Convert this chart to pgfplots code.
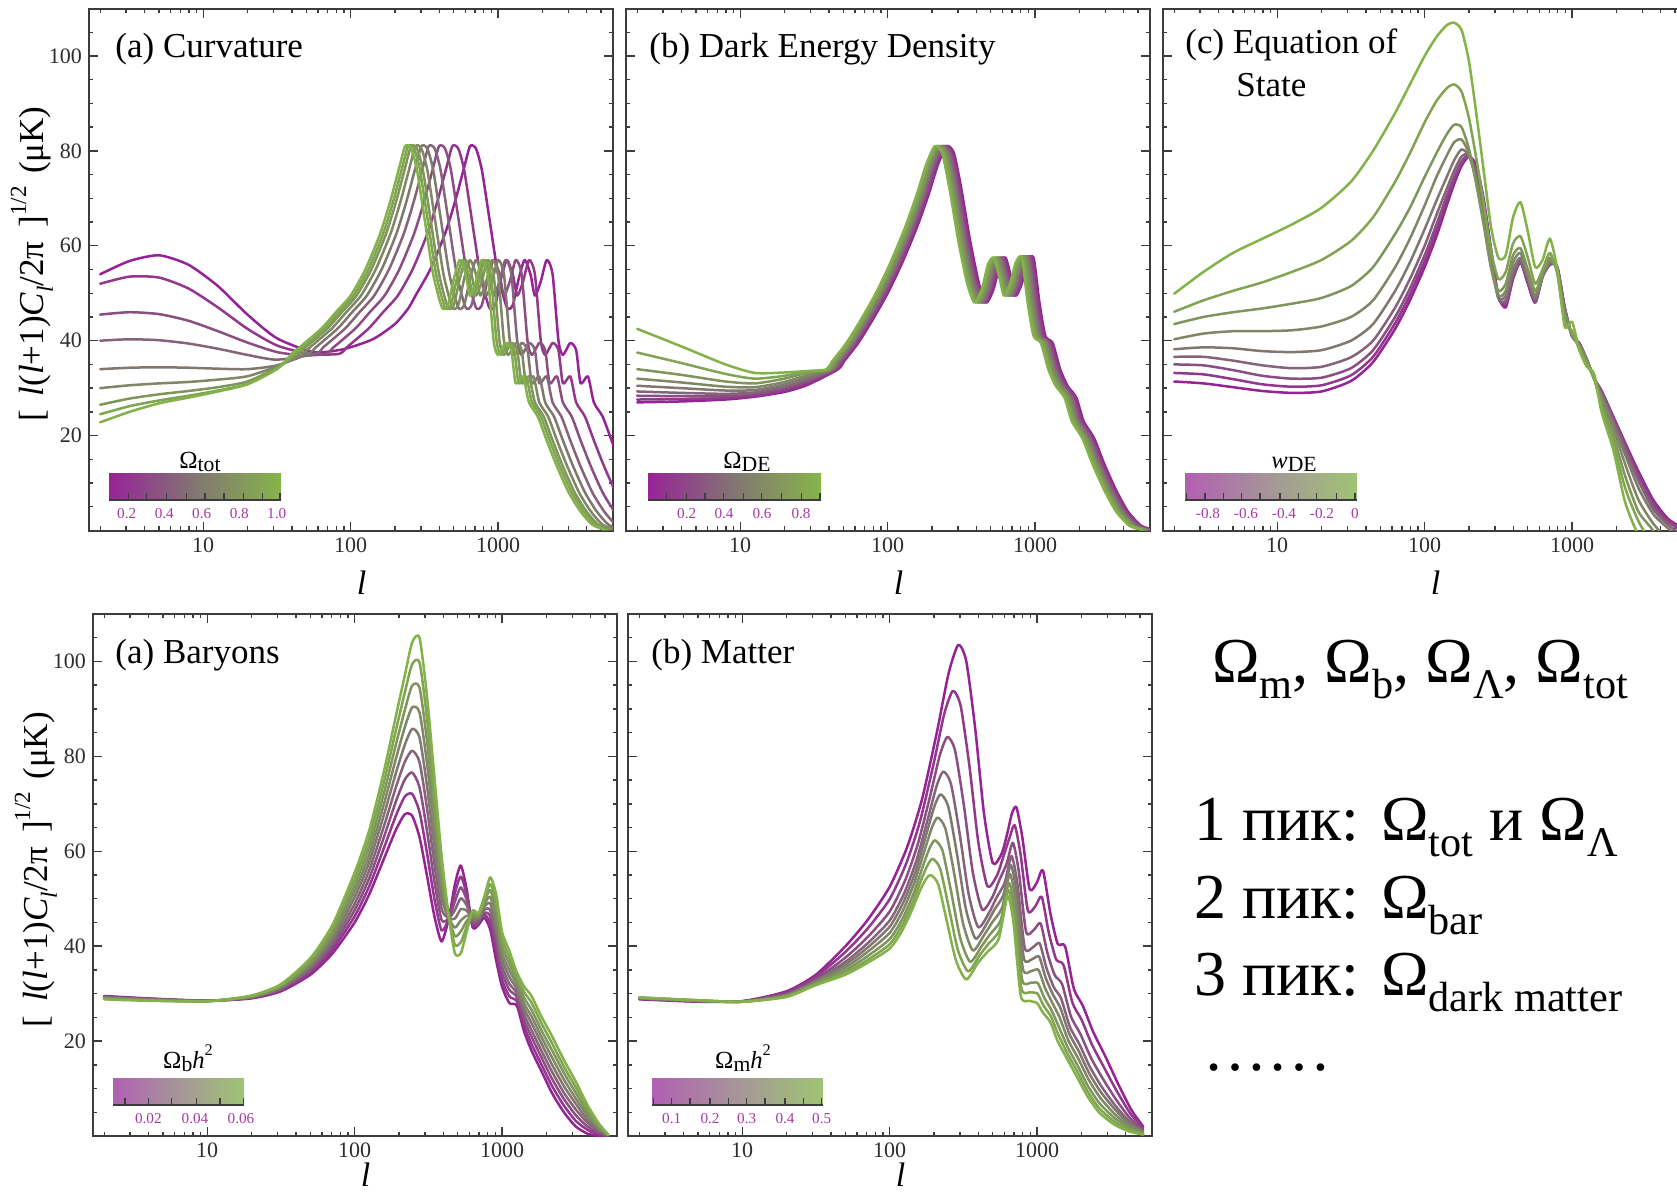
\documentclass[border=0pt]{standalone}
\usepackage{fontspec}
\setmainfont{Liberation Serif}
\usepackage{graphicx}
\usepackage{pgfplots}
\pgfplotsset{compat=1.18}
\usepackage{pgfplotstable}

\newcommand{\sub}[2][0.66]{\raisebox{-0.26em}{\scalebox{#1}{#2}}}
\newcommand{\subc}[1]{\raisebox{-0.16em}{\scalebox{0.88}{#1}}}
\newcommand{\supx}[1]{\raisebox{0.5em}{\scalebox{0.66}{#1}}}
\newcommand{\ttl}{\fontsize{17.5}{20}\selectfont}
\newcommand{\cbf}{\fontsize{7.6}{9}\selectfont}
\newcommand{\cbt}{\fontsize{12.3}{14}\selectfont}
\newcommand{\rtf}{\fontsize{32}{37}\selectfont}

\definecolor{c0}{RGB}{150,35,150}
\definecolor{c1}{RGB}{145,56,141}
\definecolor{c2}{RGB}{139,78,131}
\definecolor{c3}{RGB}{134,99,122}
\definecolor{c4}{RGB}{128,120,112}
\definecolor{c5}{RGB}{128,135,102}
\definecolor{c6}{RGB}{128,149,92}
\definecolor{c7}{RGB}{128,164,82}
\definecolor{c8}{RGB}{130,178,72}
\definecolor{frame}{RGB}{60,60,60}
\definecolor{ticktext}{RGB}{45,45,45}
\definecolor{cbPa}{RGB}{152,35,152}
\definecolor{cbMa}{RGB}{130,118,114}
\definecolor{cbGa}{RGB}{135,180,75}
\definecolor{cbPl}{RGB}{178,95,178}
\definecolor{cbMl}{RGB}{165,150,152}
\definecolor{cbGl}{RGB}{160,196,115}
\definecolor{cblab}{RGB}{165,60,165}

\pgfplotsset{
 cmb/.style={
  scale only axis, width=262pt, height=261pt,
  xmin=0.225, xmax=3.78, ymin=0, ymax=110,
  xtick={1,2,3}, xticklabels={10,100,1000},
  minor xtick={0.301,0.477,0.602,0.699,0.778,0.845,0.903,0.954,1.301,1.477,1.602,1.699,1.778,1.845,1.903,1.954,2.301,2.477,2.602,2.699,2.778,2.845,2.903,2.954,3.301,3.477,3.602,3.699},
  ytick={20,40,60,80,100},
  minor ytick={5,10,15,25,30,35,45,50,55,65,70,75,85,90,95,105},
  tick align=inside, tick pos=both,
  major tick length=4.5pt, minor tick length=2.2pt,
  axis line style={line width=1pt, draw=frame},
  every tick/.style={line width=0.7pt, draw=frame},
  tick label style={font=\fontsize{11}{13}\selectfont, text=ticktext},
  /pgf/number format/assume math mode=true,
  xlabel={\textit{l}},
  xlabel style={font=\fontsize{17}{20}\selectfont, inner sep=0pt, at={(axis description cs:0.52,-0.1)}, anchor=center},
  every axis plot/.append style={line width=1.25pt, smooth, tension=0.4, line join=round, line cap=round, mark=none},
 },
 bottomrow/.style={xlabel style={at={(axis description cs:0.52,-0.074)}}},
 ylab/.style={
  ylabel={{[}\hspace{0.15em} \textit{l}(\textit{l}+1)\textit{C}\sub{\textit{l}}/2π\hspace{0.15em} {]}\supx{1/2} \hspace{0.1em}(μK)},
  ylabel style={font=\fontsize{17.5}{20}\selectfont, at={(axis description cs:-0.109,0.51)}, anchor=center},
 },
 noylab/.style={yticklabels={}},
}

% ---------- (a) Curvature: high-l part, one x column per curve ----------
\pgfplotstableread{
y x0 x1 x2 x3 x4 x5 x6 x7 x8
38.5 2.09 1.97 1.88 1.81 1.76 1.72 1.69 1.67 1.65
42.5 2.24 2.12 2.03 1.96 1.91 1.87 1.84 1.82 1.80
46.0 2.34 2.22 2.13 2.06 2.01 1.97 1.94 1.92 1.90
49.5 2.44 2.32 2.23 2.16 2.11 2.07 2.04 2.02 2.00
55.0 2.54 2.42 2.33 2.26 2.21 2.17 2.14 2.12 2.10
62.5 2.64 2.52 2.43 2.36 2.31 2.27 2.24 2.22 2.20
69.5 2.71 2.59 2.50 2.43 2.38 2.34 2.31 2.29 2.27
76.5 2.77 2.65 2.56 2.49 2.44 2.40 2.37 2.35 2.33
81.0 2.81 2.69 2.60 2.53 2.48 2.44 2.41 2.39 2.37
80.5 2.85 2.73 2.64 2.57 2.52 2.48 2.45 2.43 2.41
76.0 2.89 2.77 2.68 2.61 2.56 2.52 2.49 2.47 2.45
66.0 2.94 2.82 2.73 2.66 2.61 2.57 2.54 2.52 2.50
54.0 3.00 2.88 2.79 2.72 2.67 2.63 2.60 2.58 2.56
47.0 3.06 2.94 2.85 2.78 2.73 2.69 2.66 2.64 2.62
47.5 3.10 2.98 2.89 2.82 2.77 2.73 2.70 2.68 2.66
53.0 3.14 3.02 2.93 2.86 2.81 2.77 2.74 2.72 2.70
57.0 3.18 3.06 2.97 2.90 2.85 2.81 2.78 2.76 2.74
54.0 3.22 3.10 3.01 2.94 2.89 2.85 2.82 2.80 2.78
49.5 3.25 3.13 3.04 2.97 2.92 2.88 2.85 2.83 2.81
52.5 3.29 3.17 3.08 3.01 2.96 2.92 2.89 2.87 2.85
57.0 3.33 3.21 3.12 3.05 3.00 2.96 2.93 2.91 2.89
54.0 3.37 3.25 3.16 3.09 3.04 3.00 2.97 2.95 2.93
40.0 3.41 3.29 3.20 3.13 3.08 3.04 3.01 2.99 2.97
37.0 3.44 3.32 3.23 3.16 3.11 3.07 3.04 3.02 3.00
39.5 3.49 3.37 3.28 3.21 3.16 3.12 3.09 3.07 3.05
38.0 3.53 3.41 3.32 3.25 3.20 3.16 3.13 3.11 3.09
31.0 3.56 3.44 3.35 3.28 3.23 3.19 3.16 3.14 3.12
32.5 3.61 3.49 3.40 3.33 3.28 3.24 3.21 3.19 3.17
27.0 3.65 3.53 3.44 3.37 3.32 3.28 3.25 3.23 3.21
24.0 3.71 3.59 3.50 3.43 3.38 3.34 3.31 3.29 3.27
19.0 3.77 3.65 3.56 3.49 3.44 3.40 3.37 3.35 3.33
13.5 3.84 3.72 3.63 3.56 3.51 3.47 3.44 3.42 3.40
8.0 3.92 3.80 3.71 3.64 3.59 3.55 3.52 3.50 3.48
4.0 4.00 3.88 3.79 3.72 3.67 3.63 3.60 3.58 3.56
1.2 4.08 3.96 3.87 3.80 3.75 3.71 3.68 3.66 3.64
0.2 4.16 4.04 3.95 3.88 3.83 3.79 3.76 3.74 3.72
}\tabAh

% ---------- (b) Dark energy: high-l part ----------
\pgfplotstableread{
y x0 x1 x2 x3 x4 x5 x6 x7 x8
35.5 1.70 1.69 1.68 1.67 1.66 1.65 1.64 1.63 1.62
39.5 1.80 1.79 1.78 1.77 1.76 1.75 1.74 1.73 1.72
44.5 1.90 1.89 1.88 1.87 1.86 1.85 1.84 1.83 1.82
50.0 2.00 1.99 1.98 1.97 1.96 1.95 1.94 1.93 1.92
56.5 2.10 2.09 2.08 2.07 2.06 2.05 2.04 2.03 2.02
64.0 2.20 2.19 2.18 2.17 2.16 2.15 2.14 2.13 2.12
71.0 2.28 2.27 2.26 2.25 2.24 2.23 2.22 2.21 2.20
77.0 2.34 2.33 2.32 2.31 2.30 2.29 2.28 2.27 2.26
81.0 2.40 2.39 2.38 2.37 2.36 2.35 2.34 2.33 2.32
79.5 2.45 2.44 2.43 2.42 2.41 2.40 2.39 2.38 2.37
72.0 2.50 2.49 2.48 2.47 2.46 2.45 2.44 2.43 2.42
61.0 2.56 2.55 2.54 2.53 2.52 2.51 2.50 2.49 2.48
52.0 2.62 2.61 2.60 2.59 2.58 2.57 2.56 2.55 2.54
48.0 2.67 2.66 2.65 2.64 2.63 2.62 2.61 2.60 2.59
51.0 2.72 2.71 2.70 2.69 2.68 2.67 2.66 2.65 2.64
56.0 2.76 2.75 2.74 2.73 2.72 2.71 2.70 2.69 2.68
57.5 2.80 2.79 2.78 2.77 2.76 2.75 2.74 2.73 2.72
53.0 2.84 2.83 2.82 2.81 2.80 2.79 2.78 2.77 2.76
49.5 2.87 2.86 2.85 2.84 2.83 2.82 2.81 2.80 2.79
52.0 2.91 2.90 2.89 2.88 2.87 2.86 2.85 2.84 2.83
56.5 2.95 2.94 2.93 2.92 2.91 2.90 2.89 2.88 2.87
57.5 2.99 2.98 2.97 2.96 2.95 2.94 2.93 2.92 2.91
48.0 3.03 3.02 3.01 3.00 2.99 2.98 2.97 2.96 2.95
41.0 3.07 3.06 3.05 3.04 3.03 3.02 3.01 3.00 2.99
39.5 3.12 3.11 3.10 3.09 3.08 3.07 3.06 3.05 3.04
34.0 3.17 3.16 3.15 3.14 3.13 3.12 3.11 3.10 3.09
30.5 3.22 3.21 3.20 3.19 3.18 3.17 3.16 3.15 3.14
28.0 3.28 3.27 3.26 3.25 3.24 3.23 3.22 3.21 3.20
23.0 3.33 3.32 3.31 3.30 3.29 3.28 3.27 3.26 3.25
19.5 3.40 3.39 3.38 3.37 3.36 3.35 3.34 3.33 3.32
14.0 3.47 3.46 3.45 3.44 3.43 3.42 3.41 3.40 3.39
8.5 3.55 3.54 3.53 3.52 3.51 3.50 3.49 3.48 3.47
4.0 3.63 3.62 3.61 3.60 3.59 3.58 3.57 3.56 3.55
1.0 3.72 3.71 3.70 3.69 3.68 3.67 3.66 3.65 3.64
0.2 3.80 3.79 3.78 3.77 3.76 3.75 3.74 3.73 3.72
}\tabBh

% ---------- (c) Equation of state ----------
\pgfplotstableread{
x y0 y1 y2 y3 y4 y5 y6 y7 y8
0.301 31.4 33.2 35.0 36.6 38.2 40.3 43.5 46.1 49.9
0.5 31.0 32.9 34.8 36.6 38.6 41.5 45.0 48.5 54.5
0.7 30.2 31.9 33.8 35.8 38.4 42.0 46.0 50.5 58.5
0.9 29.4 30.8 32.6 34.8 37.8 42.0 46.8 52.3 61.5
1.1 29.0 30.3 32.0 34.2 37.6 42.2 47.8 54.5 64.5
1.3 29.3 30.6 32.2 34.5 38.0 43.0 49.0 57.0 68.0
1.5 31.5 32.7 34.2 36.5 40.0 45.0 51.5 61.0 73.5
1.65 35.5 36.6 38.0 40.0 43.5 48.5 55.5 66.0 80.0
1.8 42.5 43.7 45.0 47.0 50.5 55.5 62.5 73.5 88.0
1.9 48.5 49.7 51.0 53.0 56.5 61.5 68.0 79.5 94.0
2.0 55.5 56.7 58.0 60.0 63.5 68.5 74.5 86.0 100.0
2.08 62.0 63.2 64.5 66.5 69.5 74.5 79.5 90.5 104.0
2.15 68.5 69.5 70.5 72.0 74.5 79.0 83.5 93.2 106.5
2.2 73.0 73.7 74.5 75.8 78.0 81.8 85.5 94.0 107.0
2.25 76.8 77.3 77.8 78.8 80.3 82.4 85.0 92.5 105.5
2.3 78.8 78.9 79.0 79.2 79.0 79.5 80.5 87.0 99.0
2.35 77.0 76.4 75.8 75.0 74.0 73.5 73.0 78.5 88.0
2.4 70.0 69.3 68.5 67.5 66.0 65.0 64.5 69.0 76.0
2.45 59.5 59.0 58.5 57.5 56.5 55.5 55.5 59.0 64.0
2.5 49.5 49.2 49.0 49.0 49.0 49.5 50.5 53.0 57.5
2.55 47.0 47.5 48.0 48.5 49.5 50.5 52.0 54.5 58.0
2.6 53.0 53.2 53.5 54.0 55.0 56.5 58.0 60.5 66.0
2.65 56.5 56.6 56.8 57.0 57.5 58.5 59.5 62.0 69.2
2.7 52.0 52.2 52.5 53.0 53.5 54.0 55.0 57.5 63.0
2.75 48.0 48.1 48.2 48.5 49.0 49.5 50.5 52.0 55.5
2.8 53.5 53.5 53.5 53.5 53.5 54.0 54.0 55.0 57.0
2.85 56.0 56.1 56.2 56.3 56.5 57.0 57.5 58.5 61.5
2.9 55.5 55.5 55.4 55.3 55.0 55.0 54.5 54.0 55.0
2.95 47.0 47.0 47.0 46.8 46.5 46.0 45.0 44.0 43.0
3.0 41.0 41.0 41.0 41.0 41.0 41.0 41.5 42.0 44.0
3.05 39.5 39.4 39.3 39.2 39.0 39.0 38.5 38.0 38.0
3.1 36.0 36.0 36.0 36.0 36.0 36.0 35.5 35.0 34.5
3.15 32.0 32.0 32.0 32.0 32.0 32.0 32.0 32.0 33.0
3.2 29.5 29.3 29.2 29.0 28.5 28.0 27.0 26.0 25.0
3.28 24.0 23.8 23.5 23.0 22.5 21.5 20.0 18.5 17.0
3.36 18.5 18.2 17.8 17.0 16.0 14.0 11.5 9.0 6.0
3.45 12.5 12.0 11.3 10.5 9.0 6.5 4.0 2.0 -1.0
3.55 6.5 6.0 5.3 4.5 3.5 1.5 0.0 -3.0 -5.0
3.65 2.5 2.2 1.8 1.2 0.5 -2.0 -5.0 -5.0 -5.0
3.75 0.5 0.3 0.0 -1.0 -2.0 -5.0 -5.0 -5.0 -5.0
}\tabC

% ---------- Baryons ----------
\pgfplotstableread{
x y0 y1 y2 y3 y4 y5 y6 y7 y8
0.301 29.5 29.4 29.3 29.2 29.2 29.1 29.0 28.9 28.8
0.6 29.0 28.9 28.9 28.8 28.8 28.7 28.6 28.6 28.5
1.0 28.5 28.5 28.5 28.5 28.5 28.4 28.4 28.4 28.4
1.3 29.0 29.1 29.2 29.2 29.3 29.4 29.5 29.5 29.6
1.5 30.5 30.7 30.9 31.1 31.3 31.4 31.6 31.8 32.0
1.7 34.0 34.4 34.9 35.3 35.8 36.2 36.6 37.1 37.5
1.85 38.5 39.3 40.0 40.8 41.5 42.3 43.0 43.8 44.5
2.0 45.0 46.3 47.6 48.9 50.3 51.6 52.9 54.2 55.5
2.1 51.0 52.7 54.4 56.1 57.8 59.4 61.1 62.8 64.5
2.2 58.5 60.8 63.1 65.4 67.8 70.1 72.4 74.7 77.0
2.28 64.5 67.5 70.5 73.5 76.5 79.5 82.5 85.5 88.5
2.34 67.8 71.5 75.1 78.8 82.4 86.1 89.7 93.4 97.0
2.39 67.5 72.1 76.6 81.2 85.8 90.3 94.9 99.4 104.0
2.44 63.0 68.3 73.5 78.8 84.0 89.3 94.5 99.8 105.0
2.49 55.0 59.8 64.5 69.3 74.0 78.8 83.5 88.3 93.0
2.54 46.5 50.2 53.9 57.6 61.3 64.9 68.6 72.3 76.0
2.59 41.0 43.3 45.5 47.8 50.0 52.3 54.5 56.8 59.0
2.64 46.0 46.0 46.0 46.0 46.0 46.0 46.0 46.0 46.0
2.68 53.0 51.2 49.4 47.6 45.8 43.9 42.1 40.3 38.5
2.72 57.0 54.7 52.4 50.1 47.8 45.4 43.1 40.8 38.5
2.76 52.0 50.9 49.8 48.6 47.5 46.4 45.3 44.1 43.0
2.8 44.0 44.4 44.9 45.3 45.8 46.2 46.6 47.1 47.5
2.84 44.5 44.8 45.1 45.4 45.8 46.1 46.4 46.7 47.0
2.88 46.0 46.6 47.1 47.7 48.3 48.8 49.4 49.9 50.5
2.92 43.5 44.9 46.3 47.6 49.0 50.4 51.8 53.1 54.5
2.96 37.0 38.8 40.5 42.3 44.0 45.8 47.5 49.3 51.0
3.0 31.5 32.9 34.4 35.8 37.3 38.7 40.1 41.6 43.0
3.05 28.0 29.4 30.8 32.1 33.5 34.9 36.3 37.6 39.0
3.1 27.5 28.4 29.3 30.1 31.0 31.9 32.8 33.6 34.5
3.15 22.0 23.2 24.4 25.6 26.8 27.9 29.1 30.3 31.5
3.2 18.0 19.4 20.9 22.3 23.8 25.2 26.6 28.1 29.5
3.27 13.5 14.9 16.4 17.8 19.3 20.7 22.1 23.6 25.0
3.34 9.0 10.5 12.0 13.5 15.0 16.5 18.0 19.5 21.0
3.42 5.0 6.4 7.8 9.1 10.5 11.9 13.3 14.6 16.0
3.5 2.0 3.2 4.4 5.6 6.8 7.9 9.1 10.3 11.5
3.58 0.5 1.3 2.0 2.8 3.5 4.3 5.0 5.8 6.5
3.66 0.0 0.3 0.6 0.9 1.3 1.6 1.9 2.2 2.5
3.72 0.0 0.0 0.1 0.1 0.2 0.2 0.2 0.3 0.3
}\tabD

% ---------- Matter ----------
\pgfplotstableread{
x0 y0 x1 y1 x2 y2 x3 y3 x4 y4 x5 y5 x6 y6 x7 y7 x8 y8
0.301 28.8 0.301 28.9 0.301 29.0 0.301 29.0 0.301 29.1 0.301 29.1 0.301 29.1 0.301 29.2 0.301 29.2
0.7 28.3 0.7 28.4 0.7 28.4 0.7 28.5 0.7 28.5 0.7 28.5 0.7 28.6 0.7 28.6 0.7 28.6
1.0 28.4 1.0 28.4 1.0 28.4 1.0 28.3 1.0 28.3 1.0 28.3 1.0 28.3 1.0 28.3 1.0 28.3
1.3 30.5 1.3 30.3 1.3 30.0 1.3 29.8 1.3 29.7 1.3 29.6 1.3 29.5 1.3 29.4 1.3 29.3
1.5 34.0 1.5 33.6 1.5 33.1 1.5 32.8 1.5 32.6 1.5 32.4 1.5 32.1 1.5 32.0 1.5 31.8
1.7 40.0 1.7 38.8 1.7 37.6 1.7 36.7 1.7 36.1 1.7 35.5 1.7 34.9 1.7 34.4 1.7 34.0
1.85 45.5 1.85 43.7 1.85 41.9 1.85 40.6 1.85 39.7 1.85 38.8 1.85 37.9 1.85 37.1 1.85 36.5
2.0 52.5 2.0 49.9 2.0 47.3 2.0 45.4 2.0 44.1 2.0 42.8 2.0 41.5 2.0 40.4 2.0 39.5
2.12 61.0 2.112 57.4 2.104 53.8 2.098 51.1 2.094 49.3 2.09 47.5 2.086 45.7 2.083 44.3 2.08 43.0
2.22 71.0 2.206 66.3 2.192 61.6 2.182 58.1 2.175 55.7 2.168 53.4 2.161 51.0 2.155 49.1 2.15 47.5
2.32 85.0 2.298 78.4 2.276 71.8 2.26 66.9 2.249 63.6 2.238 60.3 2.227 57.0 2.218 54.3 2.21 52.0
2.40 97.5 2.37 88.9 2.34 80.2 2.318 73.7 2.303 69.4 2.288 65.1 2.273 60.8 2.261 57.3 2.25 54.3
2.466 103.5 2.429 93.8 2.392 84.1 2.364 76.8 2.345 72.0 2.326 67.1 2.308 62.3 2.293 58.4 2.28 55.0
2.52 100.0 2.482 90.6 2.444 81.2 2.416 74.2 2.397 69.5 2.378 64.8 2.359 60.1 2.343 56.3 2.33 53.0
2.58 86.0 2.542 77.8 2.504 69.6 2.476 63.5 2.457 59.4 2.438 55.3 2.419 51.2 2.403 47.9 2.39 45.0
2.64 68.0 2.602 61.8 2.564 55.6 2.536 51.0 2.517 47.9 2.498 44.8 2.479 41.7 2.463 39.2 2.45 37.0
2.70 57.5 2.664 52.6 2.628 47.7 2.601 44.0 2.583 41.6 2.565 39.1 2.547 36.7 2.533 34.7 2.52 33.0
2.76 59.5 2.728 54.9 2.696 50.3 2.672 46.9 2.656 44.6 2.64 42.3 2.624 40.0 2.611 38.1 2.60 36.5
2.80 64.0 2.772 58.9 2.744 53.9 2.723 50.1 2.709 47.6 2.695 45.0 2.681 42.5 2.67 40.5 2.66 38.7
2.83 68.0 2.812 62.7 2.794 57.4 2.781 53.4 2.772 50.8 2.763 48.1 2.754 45.5 2.746 43.4 2.74 41.5
2.86 69.3 2.848 65.5 2.836 61.8 2.827 59.0 2.821 57.1 2.815 55.2 2.809 53.3 2.804 51.8 2.80 50.5
2.90 63.0 2.888 59.4 2.876 55.8 2.867 53.1 2.861 51.3 2.855 49.5 2.849 47.7 2.844 46.3 2.84 45.0
2.95 52.0 2.938 47.5 2.926 43.0 2.917 39.6 2.911 37.4 2.905 35.1 2.899 32.9 2.894 31.1 2.89 29.5
3.00 53.5 2.99 48.5 2.98 43.5 2.973 39.8 2.968 37.3 2.963 34.8 2.958 32.3 2.954 30.3 2.95 28.5
3.04 56.0 3.032 50.4 3.024 44.8 3.018 40.6 3.014 37.8 3.01 35.0 3.006 32.2 3.003 30.0 3.00 28.0
3.09 47.0 3.08 42.8 3.07 38.6 3.063 35.5 3.058 33.4 3.053 31.3 3.048 29.2 3.044 27.5 3.04 26.0
3.14 40.5 3.13 37.2 3.12 33.9 3.113 31.4 3.108 29.8 3.103 28.1 3.098 26.5 3.094 25.2 3.09 24.0
3.19 40.0 3.18 36.0 3.17 32.0 3.163 29.0 3.158 27.0 3.153 25.0 3.148 23.0 3.144 21.4 3.14 20.0
3.25 31.0 3.24 28.1 3.23 25.2 3.223 23.0 3.218 21.6 3.213 20.1 3.208 18.7 3.204 17.5 3.20 16.5
3.31 27.5 3.302 24.5 3.294 21.5 3.288 19.3 3.284 17.8 3.28 16.3 3.276 14.8 3.273 13.6 3.27 12.5
3.38 22.0 3.372 19.3 3.364 16.6 3.358 14.6 3.354 13.2 3.35 11.9 3.346 10.5 3.343 9.4 3.34 8.5
3.46 17.0 3.452 14.6 3.444 12.2 3.438 10.4 3.434 9.2 3.43 8.0 3.426 6.8 3.423 5.8 3.42 5.0
3.55 11.0 3.544 9.3 3.538 7.6 3.534 6.3 3.531 5.5 3.528 4.6 3.525 3.8 3.522 3.1 3.52 2.5
3.64 5.5 3.636 4.6 3.632 3.7 3.629 3.0 3.627 2.6 3.625 2.1 3.623 1.7 3.621 1.3 3.62 1.0
3.72 2.0 3.72 1.7 3.72 1.3 3.72 1.1 3.72 0.9 3.72 0.7 3.72 0.6 3.72 0.4 3.72 0.3
}\tabE

\begin{document}
\begin{tikzpicture}
\useasboundingbox (0pt,0pt) rectangle (838.5pt,-597pt);
\fill[white] (0pt,0pt) rectangle (838.5pt,-597pt);

% ===== (a) Curvature =====
\begin{axis}[cmb, ylab, at={(44.5pt,-265.25pt)}, anchor=south west]
\addplot[c0] coordinates {(0.301,54.0) (0.5,56.8) (0.7,58.0) (0.9,56.0) (1.1,51.5) (1.3,45.5) (1.5,40.5) (1.75,37.6) (1.95,38.2) (2.15,40.3) (2.3,43.5) (2.39,46.75) (2.44,49.5)};
\addplot[c0] table[x=x0,y=y,restrict x to domain=2.43:5]{\tabAh};
\addplot[c1] coordinates {(0.301,52.0) (0.5,53.5) (0.7,53.3) (0.9,51.0) (1.1,47.0) (1.3,42.5) (1.5,39.0) (1.72,37.2) (1.92,37.2) (1.97,38.5)};
\addplot[c1] table[x=x1,y=y]{\tabAh};
\addplot[c2] coordinates {(0.301,45.5) (0.5,46.0) (0.7,45.6) (0.9,44.2) (1.1,42.0) (1.3,39.6) (1.5,37.6) (1.68,36.9) (1.83,37.2) (1.88,38.5)};
\addplot[c2] table[x=x2,y=y]{\tabAh};
\addplot[c3] coordinates {(0.301,40.0) (0.5,40.3) (0.7,40.1) (0.9,39.4) (1.1,38.3) (1.3,37.0) (1.5,36.0) (1.76,37.2) (1.81,38.5)};
\addplot[c3] table[x=x3,y=y]{\tabAh};
\addplot[c4] coordinates {(0.301,34.0) (0.5,34.3) (0.7,34.4) (0.9,34.3) (1.1,34.1) (1.3,34.0) (1.5,34.8) (1.71,37.2) (1.76,38.5)};
\addplot[c4] table[x=x4,y=y]{\tabAh};
\addplot[c5] coordinates {(0.301,30.0) (0.5,30.6) (0.7,31.0) (0.9,31.3) (1.1,31.8) (1.3,32.5) (1.5,34.6) (1.67,37.2) (1.72,38.5)};
\addplot[c5] table[x=x5,y=y]{\tabAh};
\addplot[c6] coordinates {(0.301,26.5) (0.5,27.8) (0.7,28.7) (0.9,29.4) (1.1,30.2) (1.3,31.4) (1.5,34.3) (1.64,37.2) (1.69,38.5)};
\addplot[c6] table[x=x6,y=y]{\tabAh};
\addplot[c7] coordinates {(0.301,24.5) (0.5,26.2) (0.7,27.4) (0.9,28.4) (1.1,29.5) (1.3,30.9) (1.5,34.1) (1.62,37.2) (1.67,38.5)};
\addplot[c7] table[x=x7,y=y]{\tabAh};
\addplot[c8] coordinates {(0.301,22.8) (0.5,25.0) (0.7,26.8) (0.9,28.0) (1.1,29.3) (1.3,30.8) (1.5,34.0) (1.60,37.2) (1.65,38.5)};
\addplot[c8] table[x=x8,y=y]{\tabAh};
\end{axis}

% ===== (b) Dark energy density =====
\begin{axis}[cmb, noylab, at={(313pt,-265.25pt)}, anchor=south west]
\addplot[c0] coordinates {(0.301,27.0) (0.6,27.2) (0.9,27.6) (1.1,28.2) (1.3,29.2) (1.45,30.6) (1.66,33.9) (1.70,35.5)};
\addplot[c0] table[x=x0,y=y]{\tabBh};
\addplot[c1] coordinates {(0.301,27.6) (0.6,27.7) (0.9,27.9) (1.1,28.4) (1.3,29.5) (1.45,30.9) (1.65,33.9) (1.69,35.5)};
\addplot[c1] table[x=x1,y=y]{\tabBh};
\addplot[c2] coordinates {(0.301,28.4) (0.6,28.3) (0.9,28.3) (1.1,28.7) (1.3,29.9) (1.45,31.3) (1.64,33.9) (1.68,35.5)};
\addplot[c2] table[x=x2,y=y]{\tabBh};
\addplot[c3] coordinates {(0.301,29.3) (0.6,29.0) (0.9,28.8) (1.1,29.1) (1.3,30.3) (1.45,31.7) (1.63,33.9) (1.67,35.5)};
\addplot[c3] table[x=x3,y=y]{\tabBh};
\addplot[c4] coordinates {(0.301,30.5) (0.6,30.0) (0.9,29.5) (1.1,29.6) (1.3,30.8) (1.45,32.2) (1.62,33.9) (1.66,35.5)};
\addplot[c4] table[x=x4,y=y]{\tabBh};
\addplot[c5] coordinates {(0.301,32.0) (0.6,31.2) (0.9,30.3) (1.1,30.2) (1.3,31.3) (1.45,32.7) (1.61,33.9) (1.65,35.5)};
\addplot[c5] table[x=x5,y=y]{\tabBh};
\addplot[c6] coordinates {(0.301,34.0) (0.6,32.8) (0.9,31.4) (1.1,31.0) (1.3,32.0) (1.45,33.2) (1.60,33.9) (1.64,35.5)};
\addplot[c6] table[x=x6,y=y]{\tabBh};
\addplot[c7] coordinates {(0.301,37.5) (0.6,35.3) (0.9,33.0) (1.1,32.0) (1.3,32.6) (1.45,33.5) (1.59,33.9) (1.63,35.5)};
\addplot[c7] table[x=x7,y=y]{\tabBh};
\addplot[c8] coordinates {(0.301,42.5) (0.6,38.8) (0.9,35.0) (1.1,33.2) (1.3,33.3) (1.45,33.6) (1.58,33.9) (1.62,35.5)};
\addplot[c8] table[x=x8,y=y]{\tabBh};
\end{axis}

% ===== (c) Equation of state =====
\begin{axis}[cmb, noylab, at={(581.5pt,-265.25pt)}, anchor=south west]
\addplot[c0] table[x=x,y=y0]{\tabC};
\addplot[c1] table[x=x,y=y1]{\tabC};
\addplot[c2] table[x=x,y=y2]{\tabC};
\addplot[c3] table[x=x,y=y3]{\tabC};
\addplot[c4] table[x=x,y=y4]{\tabC};
\addplot[c5] table[x=x,y=y5]{\tabC};
\addplot[c6] table[x=x,y=y6]{\tabC};
\addplot[c7] table[x=x,y=y7]{\tabC};
\addplot[c8] table[x=x,y=y8]{\tabC};
\end{axis}

% ===== (a) Baryons =====
\begin{axis}[cmb, ylab, bottomrow, at={(46.5pt,-568pt)}, anchor=south west]
\addplot[c0] table[x=x,y=y0]{\tabD};
\addplot[c1] table[x=x,y=y1]{\tabD};
\addplot[c2] table[x=x,y=y2]{\tabD};
\addplot[c3] table[x=x,y=y3]{\tabD};
\addplot[c4] table[x=x,y=y4]{\tabD};
\addplot[c5] table[x=x,y=y5]{\tabD};
\addplot[c6] table[x=x,y=y6]{\tabD};
\addplot[c7] table[x=x,y=y7]{\tabD};
\addplot[c8] table[x=x,y=y8]{\tabD};
\end{axis}

% ===== (b) Matter =====
\begin{axis}[cmb, noylab, bottomrow, at={(314pt,-568pt)}, anchor=south west]
\addplot[c0] table[x=x0,y=y0]{\tabE};
\addplot[c1] table[x=x1,y=y1]{\tabE};
\addplot[c2] table[x=x2,y=y2]{\tabE};
\addplot[c3] table[x=x3,y=y3]{\tabE};
\addplot[c4] table[x=x4,y=y4]{\tabE};
\addplot[c5] table[x=x5,y=y5]{\tabE};
\addplot[c6] table[x=x6,y=y6]{\tabE};
\addplot[c7] table[x=x7,y=y7]{\tabE};
\addplot[c8] table[x=x8,y=y8]{\tabE};
\end{axis}

% ===== annotations (pixel-like units) =====
\begin{scope}[x=0.5pt,y=-0.5pt]
\node[anchor=base west,inner sep=0pt,font=\ttl] at (115,57.5) {(a) Curvature};
\node[anchor=base west,inner sep=0pt,font=\ttl] at (649,57.5) {(b) Dark Energy Density};
\node[anchor=base west,inner sep=0pt,font=\ttl] at (1185,54) {(c) Equation of};
\node[anchor=base west,inner sep=0pt,font=\ttl] at (1236,96) {State};
\node[anchor=base west,inner sep=0pt,font=\ttl] at (115,663) {(a) Baryons};
\node[anchor=base west,inner sep=0pt,font=\ttl] at (651,663) {(b) Matter};

% colorbar (a) Omega_tot
\shade[left color=cbPa,right color=cbGa,middle color=cbMa] (109,473) rectangle (281,500);
\draw[frame,line width=1pt] (109,500)--(281,500);
\foreach \t in {128.3,146.7,166.7,186.7,205,224,243.3,262.3,280} \draw[frame,line width=0.6pt] (\t,500)--(\t,493);
\foreach \t/\s in {126.7/0.2,164.3/0.4,201.7/0.6,239.3/0.8,276.7/1.0} \node[anchor=base,inner sep=0pt,font=\cbf,text=cblab] at (\t,518) {\s};
\node[anchor=base,inner sep=0pt,font=\cbt] at (200,468) {Ω\subc{tot}};

% colorbar (b) Omega_DE
\shade[left color=cbPa,right color=cbGa,middle color=cbMa] (648,473) rectangle (821,500);
\draw[frame,line width=1pt] (648,500)--(821,500);
\foreach \t in {666.7,686.7,705,723.3,743.3,761.7,781.7,801.7,820} \draw[frame,line width=0.6pt] (\t,500)--(\t,493);
\foreach \t/\s in {686.7/0.2,724/0.4,762/0.6,801/0.8} \node[anchor=base,inner sep=0pt,font=\cbf,text=cblab] at (\t,518) {\s};
\node[anchor=base,inner sep=0pt,font=\cbt] at (747,468) {Ω\subc{DE}};

% colorbar (c) w_DE
\shade[left color=cbPl,right color=cbGl,middle color=cbMl] (1185,473) rectangle (1357,500);
\draw[frame,line width=1pt] (1185,500)--(1357,500);
\foreach \t in {1186.7,1205,1223.3,1241.7,1260,1280,1298.3,1316.7,1336.7,1355} \draw[frame,line width=0.6pt] (\t,500)--(\t,493);
\foreach \t/\s in {1208/-0.8,1246/-0.6,1284/-0.4,1322/-0.2,1355/0} \node[anchor=base,inner sep=0pt,font=\cbf,text=cblab] at (\t,518) {\s};
\node[anchor=base,inner sep=0pt,font=\cbt] at (1294,468) {\textit{w}\subc{DE}};

% colorbar baryons
\shade[left color=cbPl,right color=cbGl,middle color=cbMl] (113,1078) rectangle (244,1105);
\draw[frame,line width=1pt] (113,1105)--(244,1105);
\foreach \t in {125,148.3,171.7,196.7,220,243.3} \draw[frame,line width=0.6pt] (\t,1105)--(\t,1098);
\foreach \t/\s in {148.3/0.02,195/0.04,241/0.06} \node[anchor=base,inner sep=0pt,font=\cbf,text=cblab] at (\t,1123) {\s};
\node[anchor=base,inner sep=0pt,font=\cbt] at (188,1068) {Ω\subc{b}\textit{h}\supx{2}};

% colorbar matter
\shade[left color=cbPl,right color=cbGl,middle color=cbMl] (652,1078) rectangle (823,1105);
\draw[frame,line width=1pt] (652,1105)--(823,1105);
\foreach \t in {653.3,671.7,690,710,728.3,746.7,765,785,803.3,821.7} \draw[frame,line width=0.6pt] (\t,1105)--(\t,1098);
\foreach \t/\s in {671.7/0.1,710/0.2,746.7/0.3,785/0.4,821.7/0.5} \node[anchor=base,inner sep=0pt,font=\cbf,text=cblab] at (\t,1123) {\s};
\node[anchor=base,inner sep=0pt,font=\cbt] at (743,1068) {Ω\subc{m}\textit{h}\supx{2}};

% right-hand text
\node[anchor=base west,inner sep=0pt,font=\rtf] at (1212,682) {Ω\sub{m}, Ω\sub{b}, Ω\sub{Λ}, Ω\sub{tot}};
\node[anchor=base west,inner sep=0pt,font=\rtf] at (1194,840) {1 пик: Ω\sub{tot} и Ω\sub{Λ}};
\node[anchor=base west,inner sep=0pt,font=\rtf] at (1194,918) {2 пик: Ω\sub{bar}};
\node[anchor=base west,inner sep=0pt,font=\rtf] at (1194,995) {3 пик: Ω\sub{dark matter}};
\node[anchor=base west,inner sep=0pt,font=\rtf] at (1203,1070) {……};
\end{scope}
\end{tikzpicture}
\end{document}
